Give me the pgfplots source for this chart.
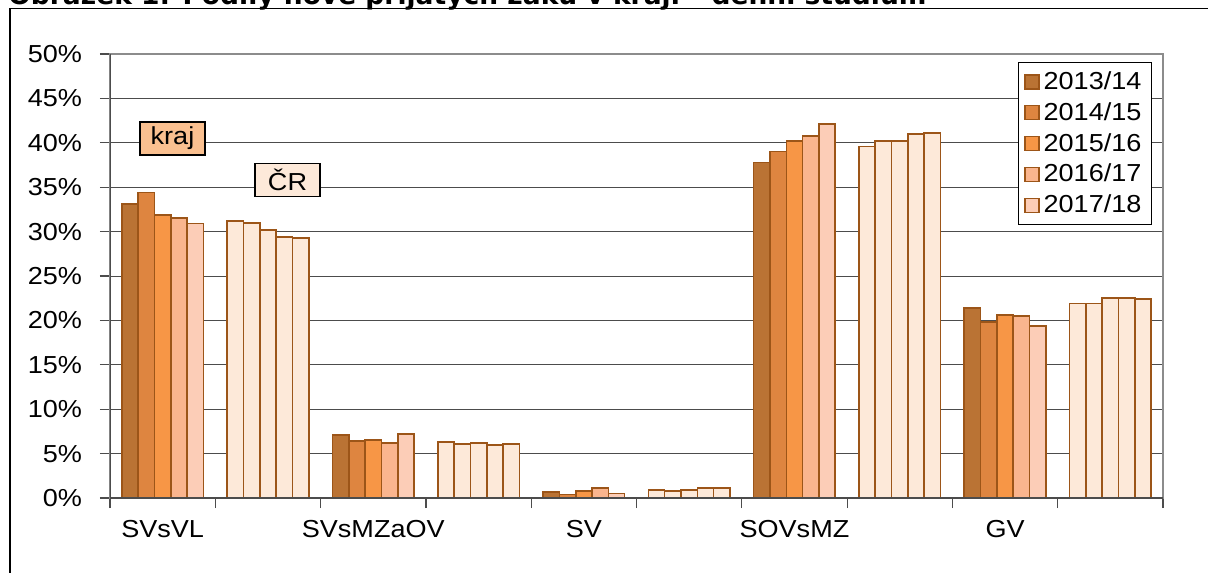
\documentclass[border=0pt]{standalone}
\usepackage{fontspec}
\setmainfont{Liberation Sans}[FakeStretch=1.1]
\newfontfamily\titlefont{DejaVu Sans}
\usepackage{graphicx}
\usepackage{pgfplots}
\pgfplotsset{compat=1.18}
\definecolor{cA}{HTML}{BA7334}
\definecolor{cB}{HTML}{DE8540}
\definecolor{cC}{HTML}{F79646}
\definecolor{cD}{HTML}{FAB58E}
\definecolor{cE}{HTML}{FCCDB7}
\definecolor{cR}{HTML}{FDE9D9}
\definecolor{edge}{HTML}{9C5518}
\definecolor{krajbox}{HTML}{FAC090}
\begin{document}
\begin{tikzpicture}
\draw[line width=0.75pt] (5pt,-4.3pt) rectangle (650pt,-320pt);
\node[anchor=base west, inner sep=0pt] at (4pt,-2.5pt) {\resizebox{459pt}{!}{\titlefont\bfseries Obrázek 1: Podíly nově přijatých žáků v kraji – denní studium}};
\begin{axis}[
  at={(55pt,-249pt)}, anchor=south west,
  scale only axis, width=526.5pt, height=222pt,
  xmin=-0.5, xmax=9.5, ymin=0, ymax=50,
  axis line style={draw=black!45, line width=0.6pt},
  ytick={0,5,...,50},
  yticklabel={\pgfmathprintnumber{\tick}\%},
  /pgf/number format/assume math mode=true,
  ymajorgrids,
  major grid style={black!70, line width=0.5pt},
  xtick={-0.5,0.5,...,9.5}, xticklabels={},
  extra x ticks={0,2,4,6,8},
  extra x tick labels={SVsVL,SVsMZaOV,SV,SOVsMZ,GV},
  extra x tick style={major tick length=0pt, grid=none},
  tick align=outside, tick pos=left,
  major tick length=5pt,
  tick style={black!70, line width=0.6pt},
  tick label style={font=\fontsize{12.3}{14}\selectfont},
  yticklabel style={xshift=-5.5pt},
  xticklabel style={yshift=-7.5pt},
  legend style={at={(0.9896,0.982)}, anchor=north east, draw=black, line width=0.6pt,
    font=\fontsize{12.3}{14}\selectfont, inner xsep=3pt, inner ysep=2.5pt, row sep=1pt,
    cells={anchor=west}},
  legend image code/.code={\draw[#1, line width=0.6pt] (0pt,-3.5pt) rectangle (7pt,3.5pt);},
]
\addplot[ybar, bar width=0.155, bar shift=-0.31, fill=cA, draw=edge, line width=0.8pt]
  coordinates {(0,33.1) (2,7.1) (4,0.7) (6,37.8) (8,21.4)};
\addplot[ybar, bar width=0.155, bar shift=-0.155, fill=cB, draw=edge, line width=0.8pt]
  coordinates {(0,34.4) (2,6.4) (4,0.4) (6,39.0) (8,19.8)};
\addplot[ybar, bar width=0.155, bar shift=0, fill=cC, draw=edge, line width=0.8pt]
  coordinates {(0,31.9) (2,6.5) (4,0.8) (6,40.2) (8,20.6)};
\addplot[ybar, bar width=0.155, bar shift=0.155, fill=cD, draw=edge, line width=0.8pt]
  coordinates {(0,31.5) (2,6.2) (4,1.1) (6,40.8) (8,20.5)};
\addplot[ybar, bar width=0.155, bar shift=0.31, fill=cE, draw=edge, line width=0.8pt]
  coordinates {(0,30.9) (2,7.2) (4,0.5) (6,42.1) (8,19.4)};
\legend{2013/14,2014/15,2015/16,2016/17,2017/18}
\addplot[ybar, bar width=0.155, bar shift=-0.31, fill=cR, draw=edge, line width=0.8pt, forget plot]
  coordinates {(1,31.2) (3,6.3) (5,0.9) (7,39.6) (9,21.9)};
\addplot[ybar, bar width=0.155, bar shift=-0.155, fill=cR, draw=edge, line width=0.8pt, forget plot]
  coordinates {(1,31.0) (3,6.1) (5,0.8) (7,40.2) (9,21.9)};
\addplot[ybar, bar width=0.155, bar shift=0, fill=cR, draw=edge, line width=0.8pt, forget plot]
  coordinates {(1,30.2) (3,6.2) (5,0.9) (7,40.2) (9,22.5)};
\addplot[ybar, bar width=0.155, bar shift=0.155, fill=cR, draw=edge, line width=0.8pt, forget plot]
  coordinates {(1,29.4) (3,6.0) (5,1.1) (7,41.0) (9,22.5)};
\addplot[ybar, bar width=0.155, bar shift=0.31, fill=cR, draw=edge, line width=0.8pt, forget plot]
  coordinates {(1,29.3) (3,6.1) (5,1.1) (7,41.1) (9,22.4)};
\draw[black!70, line width=0.75pt] (rel axis cs:0,1) -- (rel axis cs:0,0) -- (rel axis cs:1,0);
\node[draw=black, line width=0.6pt, fill=krajbox, minimum width=32.5pt, minimum height=16.5pt, inner sep=1pt, font=\fontsize{12.3}{14}\selectfont] at (axis cs:0.0935,40.48) {kraj};
\node[draw=black, line width=0.6pt, fill=cR, minimum width=32.5pt, minimum height=16.5pt, inner sep=1pt, font=\fontsize{12.3}{14}\selectfont] at (axis cs:1.186,35.8) {ČR};
\end{axis}
\pgfresetboundingbox
\path[use as bounding box] (0,0) rectangle (604pt,-286pt);
\end{tikzpicture}
\end{document}
